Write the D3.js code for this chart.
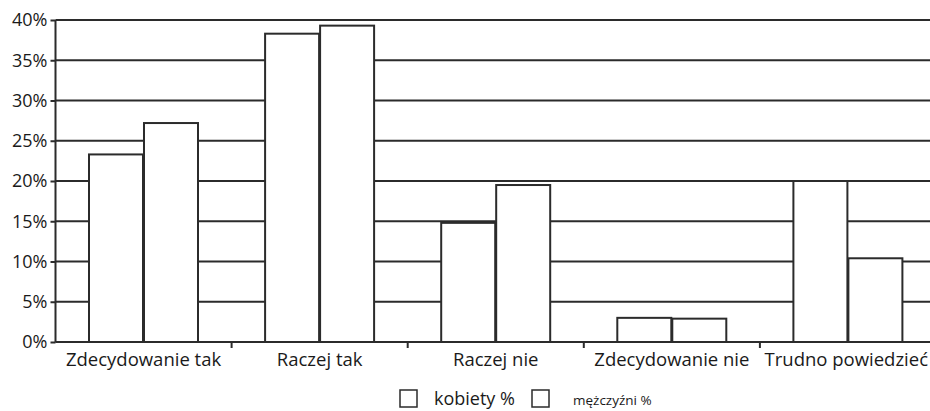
<!DOCTYPE html>
<html><head><meta charset="utf-8">
<script src="https://cdn.jsdelivr.net/npm/d3@7"></script>
<style>
html,body{margin:0;padding:0;background:#fff;}
svg{display:block;font-family:"Open Sans",sans-serif;}
</style></head>
<body><svg id="chart" width="930" height="411"></svg>
<script>
const categories = ["Zdecydowanie tak","Raczej tak","Raczej nie","Zdecydowanie nie","Trudno powiedzieć"];
const seriesNames = ["kobiety %","mężczyźni %"];
const kobiety = [23.3, 38.3, 14.8, 3.0, 20.0];
const mezczyzni = [27.2, 39.3, 19.5, 2.9, 10.4];
const yTicks = [0,5,10,15,20,25,30,35,40];

const svg = d3.select("#chart");
const W = 930, H = 411;
const m = {left:55.5, top:20, bottom:69};
const x = d3.scaleBand().domain(categories).range([m.left, 936]).paddingInner(0).paddingOuter(0);
const y = d3.scaleLinear().domain([0,40]).range([H - m.bottom, m.top]);
const xs = d3.scaleBand().domain([0,1]).range([33.5, 142.5]).paddingInner(0.018).paddingOuter(0);
const ink = "#2b2b2b";
const txt = "#1a1a1a";

// gridlines
svg.append("g").selectAll("line").data(yTicks).join("line")
  .attr("x1", m.left).attr("x2", W)
  .attr("y1", d => y(d)).attr("y2", d => y(d))
  .attr("stroke", ink).attr("stroke-width", 2);

// bars
const data = categories.map((c,i)=>({c, v:[kobiety[i], mezczyzni[i]]}));
const g = svg.append("g");
data.forEach(d=>{
  d.v.forEach((v,j)=>{
    g.append("rect")
      .attr("x", x(d.c) + xs(j)).attr("width", xs.bandwidth())
      .attr("y", y(v)).attr("height", y(0) - y(v))
      .attr("fill","#fff").attr("stroke", ink).attr("stroke-width", 2);
  });
});

// y axis
const ya = svg.append("g").attr("transform",`translate(${m.left},0)`)
  .call(d3.axisLeft(y).tickValues(yTicks).tickFormat(d=>d+"%").tickSize(5).tickPadding(3));
ya.select(".domain").attr("stroke", ink).attr("stroke-width",2).attr("d",`M0,${y(40)}V${y(0)}`);
ya.selectAll(".tick line").attr("stroke", ink).attr("stroke-width",2);
ya.selectAll("text").attr("font-size","18px").attr("fill",txt).attr("font-family","Open Sans");

// x axis
const xa = svg.append("g").attr("transform",`translate(0,${y(0)})`)
  .call(d3.axisBottom(x).tickSize(0).tickPadding(11));
xa.select(".domain").attr("stroke", ink).attr("stroke-width",2).attr("d",`M${m.left},0H${W}`);
xa.selectAll("text").attr("font-size","18.5px").attr("fill",txt).attr("font-family","Open Sans");
// keep last label inside the picture
xa.selectAll(".tick").each(function(d){
  const t = d3.select(this).select("text");
  const tx = x(d) + x.bandwidth()/2;
  const w = t.node().getComputedTextLength();
  if (tx + w/2 > W - 2) t.attr("dx", (W - 2) - (tx + w/2));
});
svg.append("g").selectAll("line").data(categories.slice(1)).join("line")
  .attr("x1", d=>x(d)).attr("x2", d=>x(d))
  .attr("y1", y(0)).attr("y2", y(0)+6)
  .attr("stroke", ink).attr("stroke-width",2);

// legend
const leg = svg.append("g");
leg.append("rect").attr("x",400).attr("y",390).attr("width",17).attr("height",17)
  .attr("fill","#fff").attr("stroke",ink).attr("stroke-width",1.5);
leg.append("text").attr("x",434).attr("y",405).attr("font-size","18px").attr("fill",txt).text(seriesNames[0]);
leg.append("rect").attr("x",532).attr("y",390).attr("width",17).attr("height",17)
  .attr("fill","#fff").attr("stroke",ink).attr("stroke-width",1.5);
leg.append("text").attr("x",573).attr("y",405).attr("font-size","13.5px").attr("fill",txt).text(seriesNames[1]);
</script>
</body></html>
